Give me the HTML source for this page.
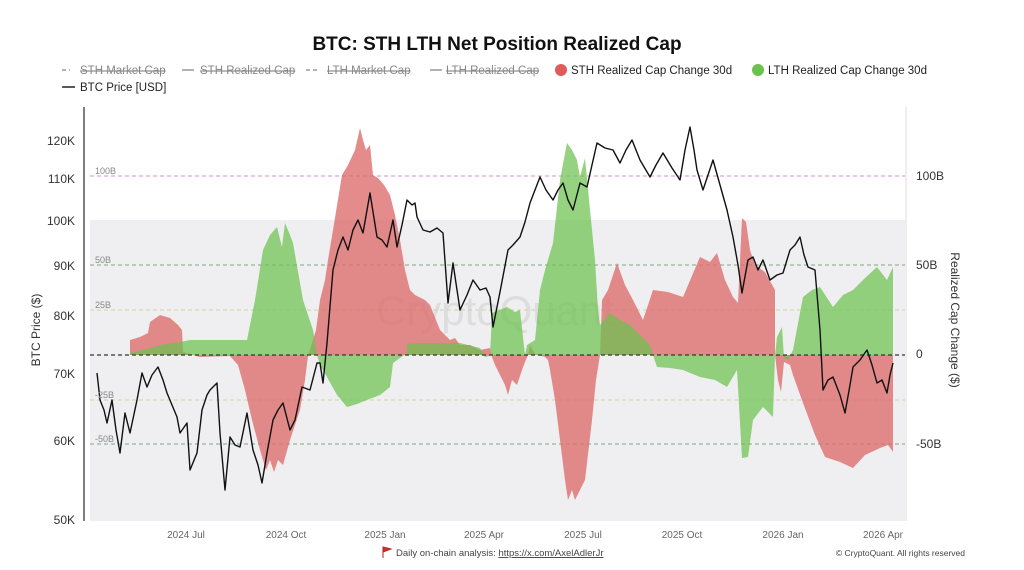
<!DOCTYPE html>
<html><head><meta charset="utf-8"><style>
html,body{margin:0;padding:0;background:#fff;}
svg{display:block;font-family:"Liberation Sans",sans-serif;}
</style></head><body>
<svg width="1024" height="570" viewBox="0 0 1024 570" xmlns="http://www.w3.org/2000/svg">
<rect width="1024" height="570" fill="#fff"/>
<text x="497" y="50" text-anchor="middle" font-size="19" font-weight="bold" fill="#111">BTC: STH LTH Net Position Realized Cap</text>
<g font-size="11.5" fill="#888">
<line x1="62" y1="70" x2="70" y2="70" stroke="#999" stroke-width="1.5" stroke-dasharray="4,3"/><text x="80" y="74" text-decoration="line-through">STH Market Cap</text>
<line x1="182" y1="70" x2="194" y2="70" stroke="#999" stroke-width="1.5"/><text x="200" y="74" text-decoration="line-through">STH Realized Cap</text>
<line x1="306" y1="70" x2="320" y2="70" stroke="#999" stroke-width="1.5" stroke-dasharray="4,3"/><text x="327" y="74" text-decoration="line-through">LTH Market Cap</text>
<line x1="430" y1="70" x2="442" y2="70" stroke="#999" stroke-width="1.5"/><text x="446" y="74" text-decoration="line-through">LTH Realized Cap</text>
<circle cx="561" cy="70" r="6" fill="#e05a5a"/><text x="571" y="74" fill="#222">STH Realized Cap Change 30d</text>
<circle cx="758" cy="70" r="6" fill="#6cc24f"/><text x="768" y="74" fill="#222">LTH Realized Cap Change 30d</text>
<line x1="62" y1="87" x2="75" y2="87" stroke="#222" stroke-width="1.5"/><text x="80" y="91" fill="#222">BTC Price [USD]</text>
</g>
<rect x="90" y="220" width="815" height="301" fill="#efeff2"/>
<line x1="84" y1="107" x2="84" y2="521" stroke="#555" stroke-width="1.5"/>
<line x1="906" y1="107" x2="906" y2="521" stroke="#ddd" stroke-width="1"/>
<g stroke-dasharray="4,3" stroke-width="1">
<line x1="90" y1="176" x2="905" y2="176" stroke="#d98ad9"/>
<line x1="90" y1="265" x2="905" y2="265" stroke="#7faa7f"/>
<line x1="90" y1="310" x2="905" y2="310" stroke="#ccd6a0"/>
<line x1="90" y1="400" x2="905" y2="400" stroke="#ccd6a0"/>
<line x1="90" y1="444" x2="905" y2="444" stroke="#7faa7f"/>
</g>
<text x="495" y="325" text-anchor="middle" font-size="42" fill="#ccc" opacity="0.5">CryptoQuant</text>
<polygon fill="#dc6a6a" fill-opacity="0.78" points="130,355 130,340 140,337 148,333 150,322 160,315 170,318 178,325 182,330 183,352 200,357 230,356 238,365 245,390 252,420 260,450 266,470 270,460 274,472 278,460 283,465 290,440 300,410 305,380 308,356 316,330 320,300 325,280 328,260 333,230 342,175 348,165 355,150 360,128 363,140 366,150 370,145 373,175 378,178 384,185 390,195 395,215 400,240 405,270 410,290 415,295 425,300 430,305 440,330 450,340 455,338 460,345 470,345 480,350 490,348 492,357 495,365 500,375 505,385 508,395 512,380 517,385 522,370 525,362 528,355 530,345 535,354 545,357 548,360 550,370 555,400 560,440 565,480 568,500 572,490 575,500 580,490 585,480 592,420 596,380 600,355 602,300 608,290 617,263 625,285 633,300 643,320 653,290 668,292 683,297 700,257 710,262 717,253 725,280 733,297 738,303 742,218 746,222 750,250 755,265 765,272 775,290 775,355 778,380 781,392 784,362 790,365 793,375 803,403 815,435 825,457 840,462 853,468 865,455 880,448 888,445 893,452 893,355"/>
<polygon fill="#6cc24f" fill-opacity="0.72" points="130,355 130,353 150,348 165,344 180,342 190,340 220,340 247,340 255,300 263,250 270,235 277,227 282,247 285,223 290,235 293,243 303,300 313,330 317,355 320,365 327,377 337,395 347,407 357,404 367,400 380,395 390,387 393,363 407,353 407,344 420,343 440,343 460,343 480,348 485,357 490,356 492,313 507,307 515,312 520,310 525,355 527,345 535,340 540,290 545,270 553,243 560,180 567,143 572,150 577,160 580,177 585,158 590,210 595,260 598,310 600,325 610,313 620,320 630,325 640,335 650,345 653,355 657,367 670,368 683,370 700,377 715,380 727,387 737,370 742,458 748,457 753,420 763,407 773,417 775,355 777,337 782,327 784,358 788,360 793,350 803,297 812,290 820,287 833,307 843,295 853,290 865,278 877,267 887,280 893,267 893,355"/>
<line x1="90" y1="355" x2="905" y2="355" stroke="#333" stroke-width="1.2" stroke-dasharray="4,3"/>
<polyline fill="none" stroke="#111" stroke-width="1.4" stroke-linejoin="round" points="97,373 100,400 104,410 107,423 112,400 116,430 120,453 125,413 130,433 137,400 142,373 147,387 152,375 158,367 163,380 167,393 172,405 177,417 180,433 187,423 190,470 197,453 202,410 207,395 210,390 217,383 220,433 225,490 230,437 235,445 240,447 247,413 253,450 258,465 262,483 267,453 273,420 278,410 283,403 290,430 295,420 302,387 310,390 317,363 320,363 323,383 327,343 333,270 338,250 343,237 348,250 353,230 358,220 363,233 370,193 377,237 382,240 387,247 393,220 397,247 402,225 407,200 412,205 415,203 417,217 423,230 430,232 437,228 443,233 448,303 453,263 457,290 460,310 467,295 473,280 480,290 486,288 490,297 493,327 500,292 508,250 513,245 520,237 525,222 530,203 535,190 540,177 546,190 553,200 558,190 563,183 568,200 573,210 580,183 587,187 592,165 597,143 605,148 613,150 620,163 626,150 632,140 640,160 650,177 656,165 663,153 672,168 680,180 685,150 690,127 694,150 697,170 703,190 708,175 713,160 720,185 727,210 733,237 738,265 742,293 748,260 753,257 758,270 763,260 770,280 777,275 783,273 790,250 795,245 800,237 804,255 808,267 815,270 820,330 823,390 828,380 833,377 840,395 845,413 850,385 853,367 860,360 867,350 872,365 877,383 882,380 887,393 890,375 893,363"/>
<g font-size="9" fill="#888">
<text x="95" y="174">100B</text><text x="95" y="263">50B</text><text x="95" y="308">25B</text><text x="95" y="398">-25B</text><text x="95" y="442">-50B</text>
</g>
<g font-size="12" fill="#333" text-anchor="end">
<text x="75" y="145">120K</text><text x="75" y="183">110K</text><text x="75" y="225">100K</text><text x="75" y="270">90K</text><text x="75" y="320">80K</text><text x="75" y="378">70K</text><text x="75" y="445">60K</text><text x="75" y="524">50K</text>
</g>
<g font-size="12" fill="#333">
<text x="916" y="180">100B</text><text x="916" y="269">50B</text><text x="916" y="358">0</text><text x="916" y="448">-50B</text>
</g>
<text transform="translate(40,330) rotate(-90)" text-anchor="middle" font-size="12" fill="#333">BTC Price ($)</text>
<text transform="translate(951,320) rotate(90)" text-anchor="middle" font-size="12" fill="#333">Realized Cap Change ($)</text>
<g font-size="10" fill="#666" text-anchor="middle">
<text x="186" y="538">2024 Jul</text><text x="286" y="538">2024 Oct</text><text x="385" y="538">2025 Jan</text><text x="484" y="538">2025 Apr</text><text x="583" y="538">2025 Jul</text><text x="682" y="538">2025 Oct</text><text x="783" y="538">2026 Jan</text><text x="883" y="538">2026 Apr</text>
</g>
<path d="M383,547 L383,558 M383,547 L391,549 L383,552 Z" stroke="#b22" fill="#c33" stroke-width="1"/>
<text x="396" y="556" font-size="9.5" fill="#444">Daily on-chain analysis: <tspan text-decoration="underline">https://x.com/AxelAdlerJr</tspan></text>
<text x="965" y="556" font-size="8.5" fill="#444" text-anchor="end">© CryptoQuant. All rights reserved</text>
</svg>
</body></html>
